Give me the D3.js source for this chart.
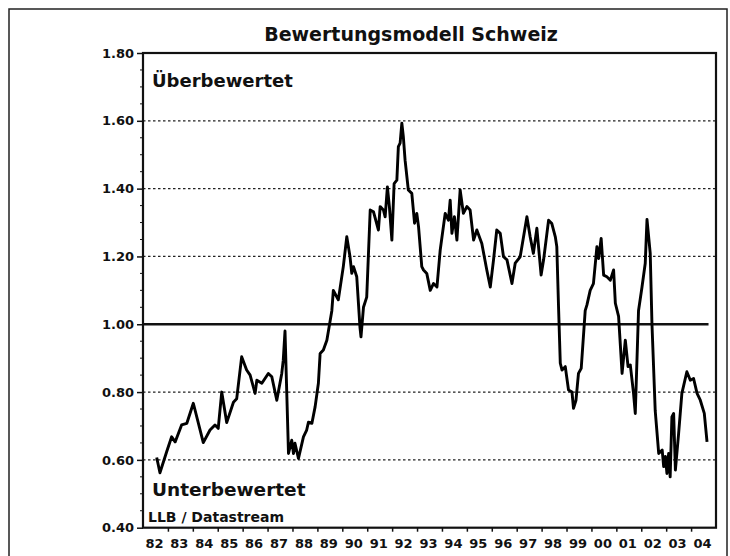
<!DOCTYPE html>
<html>
<head>
<meta charset="utf-8">
<script src="https://cdn.jsdelivr.net/npm/d3@7"></script>
<style>
  body { margin: 0; background: #fff; }
  svg { display: block; }
  text { font-family: "DejaVu Sans", sans-serif; font-weight: bold; fill: #111; }
</style>
</head>
<body>
<div id="chart"></div>
<script>
// valuation index (decimal year, value)
const dates = [
  1982.55, 1982.68, 1982.95, 1983.15, 1983.29, 1983.55, 1983.76, 1984.02, 1984.42, 1984.69,
  1984.89, 1985.02, 1985.16, 1985.36, 1985.63, 1985.76, 1985.96, 1986.16, 1986.30, 1986.50,
  1986.57, 1986.77, 1987.03, 1987.17, 1987.37, 1987.57, 1987.63, 1987.70, 1987.84, 1987.97,
  1988.04, 1988.10, 1988.24, 1988.44, 1988.57, 1988.64, 1988.78, 1988.91, 1989.04, 1989.11,
  1989.24, 1989.38, 1989.58, 1989.64, 1989.71, 1989.84, 1990.04, 1990.18, 1990.31, 1990.38,
  1990.45, 1990.58, 1990.71, 1990.75, 1990.85, 1990.98, 1991.12, 1991.25, 1991.45, 1991.52,
  1991.65, 1991.72, 1991.81, 1991.89, 1991.99, 1992.08, 1992.19, 1992.25, 1992.32, 1992.39,
  1992.45, 1992.52, 1992.65, 1992.79, 1992.90, 1992.99, 1993.06, 1993.19, 1993.26, 1993.39,
  1993.53, 1993.66, 1993.80, 1993.93, 1994.13, 1994.26, 1994.33, 1994.40, 1994.50, 1994.60,
  1994.73, 1994.86, 1995.00, 1995.13, 1995.27, 1995.40, 1995.60, 1995.80, 1995.94, 1996.07,
  1996.20, 1996.34, 1996.47, 1996.61, 1996.81, 1996.94, 1997.14, 1997.41, 1997.54, 1997.67,
  1997.81, 1997.98, 1998.08, 1998.28, 1998.41, 1998.55, 1998.61, 1998.68, 1998.75, 1998.82,
  1998.95, 1999.08, 1999.22, 1999.28, 1999.38, 1999.48, 1999.59, 1999.75, 1999.82, 1999.95,
  2000.08, 2000.22, 2000.29, 2000.39, 2000.49, 2000.62, 2000.76, 2000.89, 2000.96, 2001.09,
  2001.23, 2001.36, 2001.47, 2001.56, 2001.69, 2001.76, 2001.89, 2002.03, 2002.16, 2002.23,
  2002.36, 2002.43, 2002.56, 2002.70, 2002.84, 2002.90, 2002.97, 2003.03, 2003.10, 2003.16,
  2003.23, 2003.30, 2003.37, 2003.50, 2003.63, 2003.83, 2003.97, 2004.10, 2004.24, 2004.37,
  2004.53, 2004.64
];
const values = [
  0.607, 0.562, 0.624, 0.668, 0.653, 0.703, 0.708, 0.767, 0.651, 0.688,
  0.703, 0.693, 0.800, 0.710, 0.770, 0.780, 0.904, 0.865, 0.850, 0.796,
  0.835, 0.826, 0.855, 0.845, 0.776, 0.855, 0.894, 0.980, 0.619, 0.658,
  0.619, 0.649, 0.604, 0.668, 0.688, 0.711, 0.708, 0.757, 0.826, 0.914,
  0.924, 0.953, 1.040, 1.100, 1.090, 1.072, 1.170, 1.258, 1.199, 1.150,
  1.170, 1.140, 0.990, 0.963, 1.050, 1.080, 1.337, 1.332, 1.278, 1.347,
  1.337, 1.317, 1.405, 1.347, 1.248, 1.415, 1.425, 1.524, 1.534, 1.593,
  1.553, 1.484, 1.396, 1.386, 1.298, 1.327, 1.288, 1.170, 1.160, 1.150,
  1.100, 1.120, 1.110, 1.219, 1.327, 1.307, 1.366, 1.268, 1.317, 1.248,
  1.396, 1.327, 1.347, 1.337, 1.248, 1.278, 1.238, 1.160, 1.110, 1.190,
  1.278, 1.268, 1.199, 1.190, 1.120, 1.180, 1.199, 1.317, 1.258, 1.209,
  1.283, 1.145, 1.190, 1.307, 1.297, 1.258, 1.229, 1.050, 0.885, 0.865,
  0.875, 0.806, 0.800, 0.752, 0.776, 0.855, 0.870, 1.040, 1.057, 1.100,
  1.120, 1.229, 1.194, 1.253, 1.145, 1.140, 1.130, 1.160, 1.062, 1.023,
  0.855, 0.953, 0.875, 0.880, 0.796, 0.737, 1.040, 1.110, 1.180, 1.309,
  1.209, 1.000, 0.745, 0.619, 0.629, 0.580, 0.610, 0.560, 0.619, 0.550,
  0.727, 0.737, 0.570, 0.678, 0.796, 0.860, 0.835, 0.840, 0.796, 0.776,
  0.737, 0.653
];
const yTicks = [0.4, 0.6, 0.8, 1.0, 1.2, 1.4, 1.6, 1.8];
const gridValues = [0.6, 0.8, 1.2, 1.4, 1.6];
const yearLabels = ['82', '83', '84', '85', '86', '87', '88', '89', '90', '91', '92', '93',
                    '94', '95', '96', '97', '98', '99', '00', '01', '02', '03', '04'];
const startYear = 1982;

const width = 730, height = 556;
const plot = { left: 143, right: 716, top: 53, bottom: 527.7 };

const svg = d3.select('#chart').append('svg')
  .attr('width', width)
  .attr('height', height);

const x = d3.scaleLinear()
  .domain([startYear, startYear + yearLabels.length])
  .range([plot.left, plot.right]);

const y = d3.scaleLinear()
  .domain([0.4, 1.8])
  .range([plot.bottom, plot.top]);

// outer frame of the figure
svg.append('path')
  .attr('d', `M9,${height}V9H727V${height}`)
  .attr('fill', 'none')
  .attr('stroke', '#222')
  .attr('stroke-width', 1.5);

svg.append('text')
  .attr('x', 411)
  .attr('y', 41)
  .attr('text-anchor', 'middle')
  .style('font-size', '19px')
  .text('Bewertungsmodell Schweiz');

// dotted grid
svg.append('g')
  .selectAll('line')
  .data(gridValues)
  .enter()
  .append('line')
  .attr('x1', plot.left)
  .attr('x2', plot.right)
  .attr('y1', d => y(d))
  .attr('y2', d => y(d))
  .attr('stroke', '#222')
  .attr('stroke-width', 1.2)
  .attr('stroke-dasharray', '2.5,2.5');

// reference line at 1.00
svg.append('line')
  .attr('x1', plot.left)
  .attr('x2', x(2004.7))
  .attr('y1', y(1))
  .attr('y2', y(1))
  .attr('stroke', '#111')
  .attr('stroke-width', 2.4);

const data = dates.map((d, i) => ({ t: d, v: values[i] }));

svg.append('path')
  .datum(data)
  .attr('fill', 'none')
  .attr('stroke', '#000')
  .attr('stroke-width', 2.9)
  .attr('stroke-linejoin', 'round')
  .attr('d', d3.line().x(d => x(d.t)).y(d => y(d.v)));

// plot box
svg.append('rect')
  .attr('x', plot.left)
  .attr('y', plot.top)
  .attr('width', plot.right - plot.left)
  .attr('height', plot.bottom - plot.top)
  .attr('fill', 'none')
  .attr('stroke', '#111')
  .attr('stroke-width', 2.2);

// y axis
const yAxis = svg.append('g')
  .attr('transform', `translate(${plot.left},0)`)
  .call(d3.axisLeft(y).tickValues(yTicks).tickSize(6).tickPadding(3).tickFormat(d3.format('.2f')));
yAxis.select('.domain').remove();
yAxis.selectAll('line').attr('stroke', '#111').attr('stroke-width', 1.5);
yAxis.selectAll('text')
  .style('font-size', '13px')
  .style('font-family', '"DejaVu Sans", sans-serif')
  .style('font-weight', 'bold')
  .attr('fill', '#111');

// minor ticks on the left axis
svg.append('g')
  .selectAll('line')
  .data(d3.range(0.45, 1.8, 0.05).filter(v => Math.abs(v * 5 - Math.round(v * 5)) > 0.01))
  .enter()
  .append('line')
  .attr('x1', plot.left - 3)
  .attr('x2', plot.left)
  .attr('y1', d => y(d))
  .attr('y2', d => y(d))
  .attr('stroke', '#111')
  .attr('stroke-width', 1);

// x axis: ticks at year boundaries, labels centred in each year
const xAxis = svg.append('g')
  .attr('transform', `translate(0,${plot.bottom})`)
  .call(d3.axisBottom(x).tickValues(d3.range(startYear + 1, startYear + yearLabels.length)).tickSize(4).tickFormat(''));
xAxis.select('.domain').remove();
xAxis.selectAll('line').attr('stroke', '#111').attr('stroke-width', 1.5);

svg.append('g')
  .selectAll('text')
  .data(yearLabels)
  .enter()
  .append('text')
  .attr('x', (d, i) => x(startYear + i + 0.5) - 1)
  .attr('y', 548)
  .attr('text-anchor', 'middle')
  .style('font-size', '13px')
  .text(d => d);

svg.append('text')
  .attr('x', 152)
  .attr('y', 87)
  .style('font-size', '18px')
  .text('Überbewertet');

svg.append('text')
  .attr('x', 152)
  .attr('y', 496)
  .style('font-size', '18.5px')
  .text('Unterbewertet');

svg.append('text')
  .attr('x', 148)
  .attr('y', 522)
  .style('font-size', '14px')
  .text('LLB / Datastream');
</script>
</body>
</html>
